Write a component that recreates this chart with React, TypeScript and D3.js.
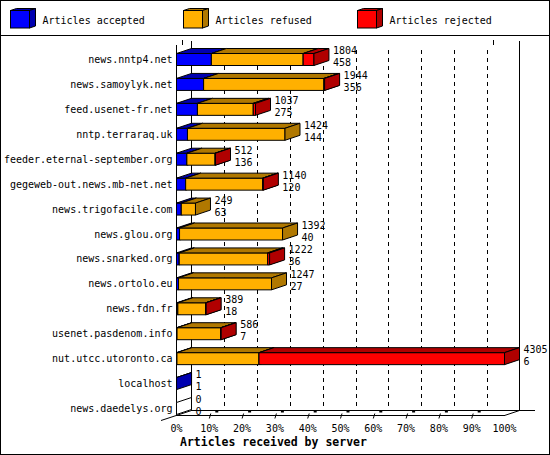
import * as d3 from 'd3'

// hosts, top to bottom
const hosts = [
  'news.nntp4.net',
  'news.samoylyk.net',
  'feed.usenet-fr.net',
  'nntp.terraraq.uk',
  'feeder.eternal-september.org',
  'gegeweb-out.news.mb-net.net',
  'news.trigofacile.com',
  'news.glou.org',
  'news.snarked.org',
  'news.ortolo.eu',
  'news.fdn.fr',
  'usenet.pasdenom.info',
  'nut.utcc.utoronto.ca',
  'localhost',
  'news.daedelys.org',
]
const accepted = [458, 356, 275, 144, 136, 120, 63, 40, 36, 27, 18, 7, 6, 1, 0]
const refused = [1205, 1580, 733, 1280, 371, 1011, 186, 1352, 1161, 1220, 365, 574, 1077, 0, 0]
const rejected = [141, 8, 29, 0, 5, 9, 0, 0, 25, 0, 6, 5, 3222, 0, 0]
const totals = [1804, 1944, 1037, 1424, 512, 1140, 249, 1392, 1222, 1247, 389, 586, 4305, 1, 0]

const seriesNames = ['Articles accepted', 'Articles refused', 'Articles rejected']
const pctTicks = [0, 10, 20, 30, 40, 50, 60, 70, 80, 90, 100]

const fronts = ['#0000ff', '#ffb000', '#ff0000']
const darks = ['#0000b0', '#b07800', '#b00000']

const W = 550
const H = 455
const DX = 15
const DY = -5
const font = '"DejaVu Sans Mono", monospace'

export default function App() {
  const series = [accepted, refused, rejected]
  const x = d3.scaleLinear([0, d3.max(totals)!], [176.5, 504.5])
  const xp = d3.scaleLinear([0, 100], [176.5, 504.5])
  const y = d3.scalePoint(hosts, [59.5, 408.5])
  const half = 6

  const top = 40.5
  const floor = 415.5

  const bars = hosts.map((h, i) => {
    const cy = y(h)!
    const t = cy - half
    const b = cy + half
    let cum = 0
    const segs: JSX.Element[] = []
    series.forEach((s, k) => {
      const v = s[i]
      if (v <= 0) return
      const x0 = x(cum)
      const x1 = x(cum + v)
      cum += v
      segs.push(
        <g key={k} stroke="#000" strokeWidth={1} strokeLinejoin="round">
          <rect x={x0} y={t} width={Math.max(0, x1 - x0)} height={b - t} fill={fronts[k]} />
          <polygon
            points={`${x0},${t} ${x1},${t} ${x1 + DX},${t + DY} ${x0 + DX},${t + DY}`}
            fill={darks[k]}
          />
          <polygon
            points={`${x1},${t} ${x1 + DX},${t + DY} ${x1 + DX},${b + DY} ${x1},${b}`}
            fill={darks[k]}
          />
        </g>
      )
    })
    if (totals[i] === 0) {
      const x0 = x(0)
      segs.push(
        <polygon
          key="empty"
          points={`${x0},${t} ${x0 + DX},${t + DY} ${x0 + DX},${b + DY} ${x0},${b}`}
          fill="#fff"
          stroke="#000"
        />
      )
    }
    const lx = x(totals[i]) + DX + 4
    return (
      <g key={h}>
        {segs}
        <text x={lx} y={t + 0.5} fontSize={10} fontFamily={font}>
          {totals[i]}
        </text>
        <text x={lx} y={t + 12.5} fontSize={10} fontFamily={font}>
          {accepted[i]}
        </text>
      </g>
    )
  })

  const legendX = [10.5, 183.5, 357.5]

  return (
    <svg
      width={W}
      height={H}
      style={{ position: 'absolute', left: 0, top: 0, background: '#fff' }}
    >
      <rect x={0.5} y={0.5} width={W - 1} height={H - 1} fill="#fff" stroke="#000" />
      <line x1={0} x2={W} y1={35.5} y2={35.5} stroke="#000" />
      <line x1={182.5} x2={182.5} y1={40} y2={45} stroke="#000" />
      <line x1={493.5} x2={493.5} y1={40} y2={45} stroke="#000" />

      {/* legend */}
      {seriesNames.map((n, k) => {
        const lx = legendX[k]
        const ly = 10.5
        const w = 19
        const hh = 17.5
        return (
          <g key={n}>
            <g stroke="#000">
              <polygon
                points={`${lx},${ly} ${lx + w},${ly} ${lx + w + 6},${ly - 2} ${lx + 6},${ly - 2}`}
                fill={darks[k]}
              />
              <polygon
                points={`${lx + w},${ly} ${lx + w + 6},${ly - 2} ${lx + w + 6},${ly + hh - 2} ${lx + w},${ly + hh}`}
                fill={darks[k]}
              />
              <rect x={lx} y={ly} width={w} height={hh} fill={fronts[k]} />
            </g>
            <text x={lx + 32} y={23.5} fontSize={10} fontFamily={font}>
              {n}
            </text>
          </g>
        )
      })}

      {/* back walls and grid */}
      <g stroke="#000" shapeRendering="crispEdges">
        {pctTicks.slice(1, -1).map((p) => (
          <line
            key={p}
            x1={Math.round(xp(p) + DX) + 0.5}
            x2={Math.round(xp(p) + DX) + 0.5}
            y1={top + 9}
            y2={floor + DY}
            strokeDasharray="4,4"
          />
        ))}
        <line x1={191.5} x2={191.5} y1={top} y2={floor + DY} />
        <line x1={519.5} x2={519.5} y1={top} y2={floor + DY} />
        <line x1={176.5} x2={176.5} y1={45} y2={floor} />
        <line x1={191.5} x2={535} y1={floor + DY} y2={floor + DY} />
        <line x1={176.5} x2={504.5} y1={floor} y2={floor} />
      </g>
      <g stroke="#000">
        <line x1={161} y1={420.5} x2={191.5} y2={410.5} />
        <line x1={504.5} y1={floor} x2={519.5} y2={floor + DY} />
      </g>

      {/* floor ticks */}
      {pctTicks.slice(1, -1).map((p) => {
        const tx = xp(p)
        return (
          <g key={p}>
            <line x1={tx} y1={floor + 3} x2={tx + 1.5} y2={floor - 2} stroke="#000" />
            <rect x={tx + 6} y={floor - 5} width={3} height={2} fill="#000" />
          </g>
        )
      })}

      {bars}

      {/* category labels */}
      {hosts.map((h) => (
        <text
          key={h}
          x={172.5}
          y={y(h)! + 3.5}
          fontSize={10}
          fontFamily={font}
          textAnchor="end"
        >
          {h}
        </text>
      ))}

      {/* x tick labels */}
      {pctTicks.map((p) => (
        <text
          key={p}
          x={xp(p)}
          y={432}
          fontSize={10}
          fontFamily={font}
          textAnchor="middle"
        >
          {p}%
        </text>
      ))}

      <text x={180} y={445.5} fontSize={11.5} fontWeight="bold" fontFamily={font}>
        Articles received by server
      </text>
    </svg>
  )
}
